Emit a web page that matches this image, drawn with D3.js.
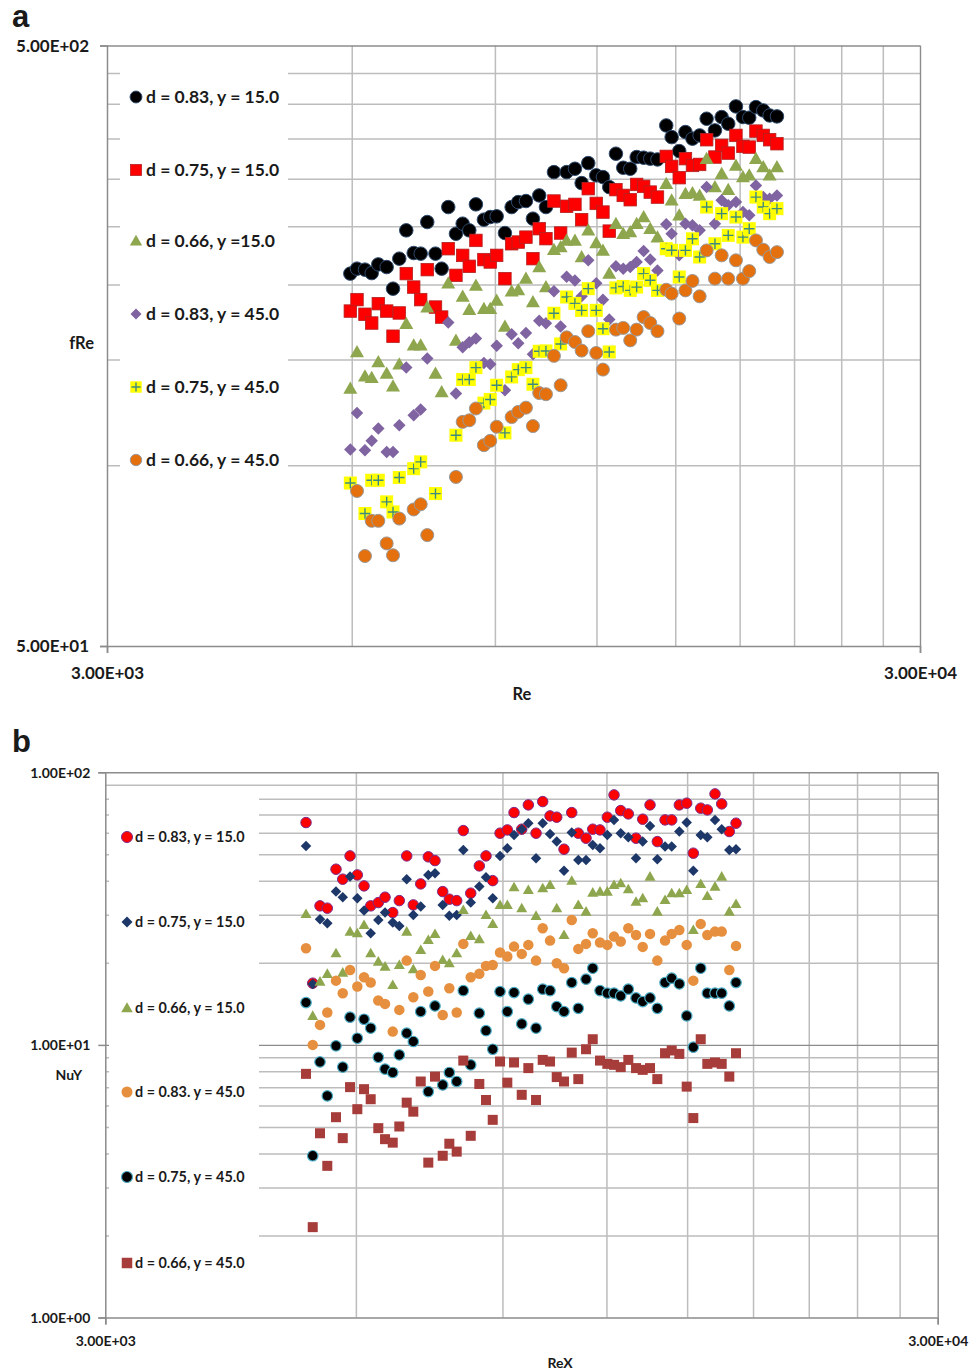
<!DOCTYPE html>
<html>
<head>
<meta charset="utf-8">
<script src="https://cdn.jsdelivr.net/npm/d3@7/dist/d3.min.js"></script>
<style>
  body { margin: 0; background: #fff; }
  text { font-family: Lato, "Open Sans", sans-serif; font-weight: bold; fill: #1a1a1a; }
  .grid line { stroke: #bdbdbd; stroke-width: 1.5; }
  .major line { stroke: #8c8c8c; stroke-width: 1.4; }
  .axis path, .axis line { stroke: #8c8c8c; stroke-width: 1.5; }
</style>
</head>
<body>
<svg id="chart" width="976" height="1372"></svg>
<script>
// ---- panel a : fRe vs Re ----
const reA = [5976, 6090, 6229, 6349, 6469, 6624, 6744, 6865, 7002, 7151, 7294, 7431, 7606, 7740, 7886, 8060, 8215, 8370, 8529, 8724,
  8882, 9045, 9259, 9437, 9615, 9827, 10023, 10204, 10400, 10638, 10842, 11027, 11290, 11506, 11724, 11992, 12222, 12442, 12680, 12945,
  13204, 13446, 13715, 13974, 14262, 14622, 14847, 15170, 15439, 15749, 16072, 16394, 16784, 17106, 17428, 17813, 18169, 18496, 18851, 19245,
  19596, 20006];
const fRe_083_15 = [208.5, 212.5, 211.7, 208.9, 216.0, 213.8, 196.8, 220.8, 246.1, 225.6, 225.1, 254.1, 225.1, 212.5, 269.1, 242.9, 252.5, 246.1, 271.9, 256.4,
  259.0, 259.7, 243.6, 269.1, 274.3, 275.4, 257.4, 281.4, 269.1, 307.7, null, 307.7, 311.7, 295.0, 318.5, 303.9, 301.9, 290.5, 330.2, 312.9,
  311.7, 326.0, 325.2, 324.0, 323.0, 368.0, 351.9, 333.5, 358.8, 349.8, 354.2, 377.6, 361.1, 380.0, 370.4, 395.9, 380.0, 379.1, 394.8, 389.8,
  382.4, 381.0];
const fRe_075_15 = [180.6, 188.7, 178.4, 172.5, 185.8, 180.6, 164.0, 179.3, 208.5, 198.0, 188.7, 211.7, 183.4, 176.5, 229.4, 207.1, 223.6, 214.4, 236.8, 220.0,
  218.0, 223.6, 204.5, 233.8, 235.3, 239.8, 220.8, 247.7, 238.4, 275.4, 243.6, 269.9, 271.9, 256.4, 288.8, 272.9, 264.0, 245.4, 287.7, 281.4,
  276.8, 293.5, 291.3, 285.0, 279.6, 326.8, 314.5, 301.2, 324.0, 315.7, 316.9, 348.4, 326.0, 340.9, 331.0, 354.2, 339.6, 338.7, 360.1, 354.2,
  348.4, 343.1];
const fRe_066_15 = [134.2, 154.4, 140.7, 139.9, 148.5, 142.1, 135.4, 147.3, 172.1, 158.4, 158.4, 183.2, 142.1, 132.4, 200.9, 161.4, 190.9, 181.6, 199.3, 182.3,
  182.3, 188.0, 170.3, 194.8, 195.8, 204.6, 187.0, 213.8, 198.0, 228.5, 231.0, 236.8, 236.8, 222.2, 246.1, 234.4, 227.9, 208.5, 252.5, 243.0,
  244.5, 252.5, 259.0, 247.7, 239.8, 294.3, 276.1, 260.7, 283.3, 283.9, 281.4, 324.0, 290.5, 305.9, 287.7, 315.7, 301.9, 303.9, 324.0, 313.7,
  303.9, 313.7];
const fRe_083_45 = [106.2, 122.2, 105.9, 109.8, 115.1, 105.2, 105.2, 116.6, 145.4, 121.1, 123.8, 150.5, null, null, 172.8, 131.6, 157.2, 160.2, 162.5, 148.0,
  147.3, 158.1, 133.3, 165.2, 159.6, 166.0, 153.0, 174.1, 172.3, 194.8, 170.3, 206.0, 203.0, 191.1, 219.4, 200.9, 188.7, 174.8, 214.4, 212.5,
  213.8, 218.0, 227.3, 220.0, 211.1, 251.9, 243.0, 223.6, 252.5, 250.9, 246.1, 290.5, 252.5, 276.1, 270.9, 274.3, 264.0, 260.7, 292.4, 279.6,
  277.9, 281.4];
const fRe_075_45 = [93.4, null, 83.1, 94.4, 94.4, 86.9, 83.6, 95.4, null, 98.7, 101.3, null, 89.7, null, null, 112.2, 138.9, 138.9, 145.4, 126.9,
  128.7, 135.9, 113.2, 140.3, 144.3, 145.4, 136.4, 154.8, 155.0, 179.1, 159.2, 190.6, 186.0, 181.1, 196.8, 181.1, 168.8, 154.4, 197.4, 198.5,
  195.5, 198.0, 208.5, 203.2, 195.5, 229.4, 228.0, 205.8, 227.9, 238.3, 222.2, 269.1, 233.8, 262.4, 241.4, 259.0, 239.8, 247.7, 279.6, 269.1,
  262.4, 267.5];
const fRe_066_45 = [null, 90.6, 70.6, 80.8, 80.8, 74.1, 70.8, 81.5, null, 84.4, 86.1, 76.5, null, null, null, 95.6, 118.1, 118.8, 124.3, 108.0,
  109.8, 115.9, null, 120.3, 122.7, 124.7, 116.2, 131.9, 131.3, 152.1, 135.9, 163.3, 160.4, 155.2, 167.2, 153.8, 144.3, null, 168.2, 169.3,
  161.4, 168.2, 176.5, 172.5, 167.2, 196.0, 193.1, 175.5, 195.5, 202.7, 191.1, 227.9, 204.5, 223.6, 204.5, 219.4, 204.5, 210.5, 236.8, 228.5,
  222.2, 226.4];

// ---- panel b : NuY vs ReX ----
const reB = [5227, 5325, 5433, 5544, 5679, 5786, 5904, 6024, 6137, 6251, 6384, 6504, 6644, 6766, 6906, 7033, 7179, 7331, 7468, 7629,
  7770, 7930, 8076, 8244, 8442, 8600, 8761, 8940, 9122, 9293, 9493, 9668, 9876, 10060, 10266, 10458, 10671, 10901, 11101, 11341,
  11553, 11788, 12029, 12254, 12483, 12748, 13023, 13266, 13537, 13813, 14111, 14374, 14680, 14983, 15259, 15575, 15862, 16203, 16506, 16857,
  17173];
const nu_083_15 = [65.4, 16.84, 32.36, 31.74, 44.11, 40.54, 49.36, 42.03, 38.31, 32.36, 33.27, 34.82, 30.58, 33.83, 49.36, 32.63, 38.96, 48.97, 47.43, 36.51,
  34.24, 33.83, 61.12, 36.02, 45.36, 49.36, 40.05, 59.79, 61.47, 71.16, 61.84, 75.93, 59.79, 78.09, 69.20, 68.45, 52.23, 71.16, 59.79, 57.32,
  61.84, 61.47, 68.45, 82.62, 72.37, 70.38, 57.32, 67.29, 75.93, 55.70, 66.89, 66.89, 75.93, 77.04, 50.50, 73.86, 72.79, 83.33, 76.58, 60.62,
  65.06];
const nu_075_15 = [53.71, 16.74, 28.91, 27.96, 36.51, 34.82, 41.44, 34.53, 31.10, 25.69, 28.74, 30.58, 28.10, 27.32, 40.54, 29.98, 32.17, 42.03, 42.64, 32.63,
  29.74, 29.98, 51.92, 33.27, 38.09, 41.23, 34.53, 49.36, 52.67, 58.93, 61.84, 65.06, 48.41, 65.06, 59.44, 55.70, 43.58, 60.11, 47.71, 47.71,
  54.16, 52.67, 58.93, 66.89, 59.79, 57.81, 48.41, 55.70, 63.59, 47.99, 53.40, 53.40, 60.62, 65.39, 43.58, 58.93, 57.81, 66.89, 61.84, 51.92,
  52.23];
const nu_066_15 = [30.24, 12.78, 17.07, 18.22, 21.70, 18.42, 26.04, 25.69, 27.55, 21.70, 20.21, 19.38, 16.60, 19.65, 26.04, 18.95, 22.31, 24.28, 25.54, 20.50,
  19.94, 21.70, 31.28, 25.11, 24.42, 29.98, 27.79, 32.63, 32.63, 37.89, 31.74, 37.03, 29.74, 37.57, 38.63, 31.74, 25.32, 40.05, 32.63, 30.84,
  36.20, 36.51, 36.51, 38.63, 39.19, 37.25, 33.54, 34.53, 41.44, 30.84, 34.03, 36.02, 36.02, 37.03, 26.41, 38.96, 35.21, 38.09, 41.44, 30.84,
  32.91];
const nu_083_45 = [22.63, 10.0, 11.84, 13.14, 17.21, 15.48, 18.84, 16.37, 17.72, 16.93, 14.54, 14.14, 11.19, 13.44, 20.38, 14.96, 18.06, 15.69, 19.49, 12.88,
  16.14, 13.14, 23.47, 17.72, 18.22, 19.49, 19.65, 21.81, 21.09, 22.94, 21.57, 23.27, 20.38, 26.80, 24.13, 19.94, 19.11, 28.74, 22.50, 23.47,
  25.69, 23.74, 23.27, 24.96, 23.94, 26.80, 25.32, 22.88, 25.54, 20.38, 24.13, 25.54, 26.41, 23.27, 17.21, 27.79, 25.32, 26.04, 26.04, 18.84,
  23.08];
const nu_075_45 = [14.30, 3.92, 8.66, 6.50, 9.92, 8.29, 12.64, 10.58, 12.42, 11.52, 9.01, 8.15, 7.92, 9.19, 11.04, 10.29, 13.25, 6.74, 13.90, 7.13,
  7.92, 7.34, 15.82, 8.45, 13.07, 11.28, 9.64, 15.69, 13.25, 15.56, 11.94, 14.71, 11.52, 16.01, 15.82, 13.82, 13.25, 16.93, 13.62, 17.42,
  19.11, 15.82, 15.48, 15.48, 15.13, 16.01, 14.87, 14.42, 14.87, 13.62, 16.93, 17.57, 16.74, 12.78, 9.81, 19.11, 15.48, 15.48, 15.48, 13.90,
  16.93];
const nu_066_45 = [7.83, 2.145, 4.74, 3.60, 5.43, 4.55, 7.00, 5.81, 6.88, 6.32, 4.95, 4.51, 4.38, 5.02, 6.14, 5.69, 7.34, 3.70, 7.65, 3.92,
  4.34, 4.06, 8.76, 4.64, 7.19, 6.28, 5.31, 8.69, 7.27, 8.62, 6.56, 8.22, 6.28, 8.81, 8.69, 7.62, 7.34, 9.37, 7.49, 9.64,
  10.49, 8.76, 8.52, 8.45, 8.29, 8.81, 8.22, 8.10, 8.22, 7.49, 9.32, 9.54, 9.27, 7.03, 5.39, 10.49, 8.52, 8.62, 8.52, 7.65,
  9.32];

// legend names
const namesA = ["d = 0.83, y = 15.0", "d = 0.75, y = 15.0", "d = 0.66, y =15.0", "d = 0.83, y = 45.0", "d = 0.75, y = 45.0", "d = 0.66, y = 45.0"];
const namesB = ["d = 0.83, y = 15.0", "d = 0.75, y = 15.0", "d = 0.66, y = 15.0", "d = 0.83. y = 45.0", "d = 0.75, y = 45.0", "d = 0.66, y = 45.0"];

// tick values (Excel log axis, minor units are multiples of the base)
const xTicks = [3000, 30000];
const xMinor = [6000, 9000, 12000, 15000, 18000, 21000, 24000, 27000];
const yTicksA = [50, 500];
const yMinorA = [100, 150, 200, 250, 300, 350, 400, 450];
const yTicksB = [1, 10, 100];
const yMinorB = [2, 3, 4, 5, 6, 7, 8, 9, 20, 30, 40, 50, 60, 70, 80, 90];

const svg = d3.select('#chart');
svg.append('rect').attr('width', 976).attr('height', 1372).attr('fill', '#fff');

// 3.00E+03 style
const fmtE = v => {
  const [m, e] = v.toExponential(2).split('e');
  return m + 'E' + e[0] + e.slice(1).padStart(2, '0');
};

function marker(sel, st, k) {
  const r = st.size * k / 2;
  let m;
  if (st.shape === 'circle') m = sel.append('circle').attr('r', r);
  else if (st.shape === 'square') m = sel.append('rect').attr('x', -r).attr('y', -r).attr('width', 2 * r).attr('height', 2 * r);
  else if (st.shape === 'triangle') m = sel.append('path').attr('d', `M0,${-r}L${r},${r * 0.75}L${-r},${r * 0.75}Z`);
  else m = sel.append('path').attr('d', `M0,${-r}L${r},0L0,${r}L${-r},0Z`);
  m.attr('fill', st.fill).attr('stroke', st.stroke || 'none').attr('stroke-width', st.sw || 0);
  if (st.plus) {
    sel.append('path')
      .attr('d', `M${-r * 0.8},0H${r * 0.8}M0,${-r * 0.8}V${r * 0.8}`)
      .attr('stroke', st.plus).attr('stroke-width', 1.4).attr('fill', 'none');
  }
}

function drawPanel(p) {
  const x = d3.scaleLog().domain([3000, 30000]).range(p.xr);
  const y = d3.scaleLog().domain(p.yd).range(p.yr);
  const W = p.xr[1] - p.xr[0], H = p.yr[0] - p.yr[1];
  const g = svg.append('g');

  g.append('g').attr('class', 'grid').attr('transform', `translate(0,${p.yr[0]})`)
    .call(d3.axisBottom(x).tickValues(xMinor).tickSize(-H).tickFormat(''));
  g.append('g').attr('class', 'grid').attr('transform', `translate(${p.xr[0]},0)`)
    .call(d3.axisLeft(y).tickValues(p.yMinor).tickSize(-W).tickFormat(''));
  g.append('g').attr('class', 'major').attr('transform', `translate(${p.xr[0]},0)`)
    .call(d3.axisLeft(y).tickValues(p.yMajor).tickSize(-W).tickFormat(''));
  g.append('g').attr('class', 'major').attr('transform', `translate(0,${p.yr[0]})`)
    .call(d3.axisBottom(x).tickValues([30000]).tickSize(-H).tickFormat(''));
  g.selectAll('.grid .domain, .major .domain').remove();

  const ax = g.append('g').attr('class', 'axis').attr('transform', `translate(0,${p.yr[0]})`)
    .call(d3.axisBottom(x).tickValues(xTicks).tickSize(7).tickFormat(fmtE));
  ax.selectAll('text').attr('y', p.xLab).attr('dy', '0.35em').style('font-size', p.tick + 'px');
  const ay = g.append('g').attr('class', 'axis').attr('transform', `translate(${p.xr[0]},0)`)
    .call(d3.axisLeft(y).tickValues(p.yTicks).tickSize(7).tickPadding(p.yPad).tickFormat(fmtE));
  ay.selectAll('text').attr('dy', '0.35em').style('font-size', p.tick + 'px');
  g.selectAll('.axis').attr('font-family', null);

  // legend box hides the grid behind it
  const L = p.leg;
  g.append('rect').attr('x', L.x).attr('y', L.y).attr('width', L.w).attr('height', L.h).attr('fill', '#fff');
  p.series.forEach((s, i) => {
    marker(g.append('g').attr('transform', `translate(${L.mx},${L.ys[i]})`), s.st, L.k);
    g.append('text').attr('x', L.tx).attr('y', L.ys[i]).attr('dy', '0.35em')
      .style('font-size', L.font + 'px').text(s.name);
  });

  p.series.forEach(s => {
    const pts = s.vals.map((v, i) => ({ re: p.xs[i], v })).filter(d => d.v != null);
    const sel = g.append('g').selectAll('g').data(pts).join('g')
      .attr('transform', d => `translate(${x(d.re)},${y(d.v)})`);
    marker(sel, s.st, 1);
  });

  g.append('text').attr('x', p.xTitle[0]).attr('y', p.xTitle[1]).attr('dy', '0.35em')
    .attr('text-anchor', 'middle').style('font-size', p.title + 'px').text(p.xName);
  g.append('text').attr('x', p.yTitle[0]).attr('y', p.yTitle[1]).attr('dy', '0.35em')
    .attr('text-anchor', 'end').style('font-size', p.title + 'px').text(p.yName);
  g.append('text').attr('x', 12).attr('y', p.tag[1]).style('font-size', '31px')
    .style('font-family', '"Liberation Sans", Arial, sans-serif').text(p.tag[0]);
}

drawPanel({
  xr: [107, 920], yr: [646, 45.5], yd: [50, 500],
  yMinor: yMinorA, yMajor: [500], yTicks: yTicksA, yPad: 11,
  xs: reA, tick: 17, title: 16.5, xLab: 27,
  xName: 'Re', xTitle: [522, 694], yName: 'fRe', yTitle: [94, 343], tag: ['a', 27],
  leg: { x: 120, y: 62, w: 168, h: 416, mx: 136, tx: 146, k: 0.88, font: 17.5, ys: [97, 170, 241, 314, 387, 460] },
  series: [
    { name: namesA[0], vals: fRe_083_15, st: { shape: 'circle', size: 13.5, fill: '#000', stroke: '#2c4a6e', sw: 1 } },
    { name: namesA[1], vals: fRe_075_15, st: { shape: 'square', size: 12.5, fill: '#ff0000', stroke: '#b32020', sw: 0.8 } },
    { name: namesA[2], vals: fRe_066_15, st: { shape: 'triangle', size: 14, fill: '#8ea64e' } },
    { name: namesA[3], vals: fRe_083_45, st: { shape: 'diamond', size: 12.5, fill: '#8064a2' } },
    { name: namesA[4], vals: fRe_075_45, st: { shape: 'square', size: 13, fill: '#ffff00', plus: '#3f8a80' } },
    { name: namesA[5], vals: fRe_066_45, st: { shape: 'circle', size: 13, fill: '#e4700e', stroke: '#9a9a9a', sw: 1 } }
  ]
});

drawPanel({
  xr: [105.3, 937.7], yr: [1317.5, 772.3], yd: [1, 100],
  yMinor: yMinorB, yMajor: [10, 100], yTicks: yTicksB, yPad: 8,
  xs: reB, tick: 14, title: 14, xLab: 24,
  xName: 'ReX', xTitle: [560, 1363], yName: 'NuY', yTitle: [82, 1075], tag: ['b', 752],
  leg: { x: 109, y: 793, w: 150, h: 505, mx: 127, tx: 135, k: 1.05, font: 14.4, ys: [837, 922, 1008, 1092, 1177, 1263] },
  series: [
    { name: namesB[0], vals: nu_083_15, st: { shape: 'circle', size: 10.5, fill: '#ff0000', stroke: '#7a2a8a', sw: 1 } },
    { name: namesB[1], vals: nu_075_15, st: { shape: 'diamond', size: 10.5, fill: '#1c3768' } },
    { name: namesB[2], vals: nu_066_15, st: { shape: 'triangle', size: 11, fill: '#8ea64e' } },
    { name: namesB[3], vals: nu_083_45, st: { shape: 'circle', size: 10.5, fill: '#e68f3f' } },
    { name: namesB[4], vals: nu_075_45, st: { shape: 'circle', size: 10.5, fill: '#000', stroke: '#4bacc6', sw: 1.2 } },
    { name: namesB[5], vals: nu_066_45, st: { shape: 'square', size: 10, fill: '#a63d3a' } }
  ]
});
</script>
</body>
</html>
